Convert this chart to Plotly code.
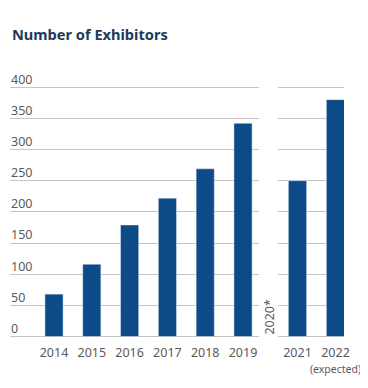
import plotly.graph_objects as go

title_text = "Number of Exhibitors"
years_a = ["2014", "2015", "2016", "2017", "2018", "2019"]
values_a = [68, 116, 179, 222, 269, 342]
years_b = ["2021", "2022<br><span style='font-size:10.5px'>(expected)</span>"]
values_b = [250, 380]
gap_label = "2020*"
y_ticks = [0, 50, 100, 150, 200, 250, 300, 350, 400]

BAR = "#0c4a88"
GRID = "#c4c4c4"
TXT = "#5a5a5a"
FONT = "Noto Sans"

# page body has an 8px margin: work in figure coords = screen - 8
OFF = 8
FW, FH = 368 - 2 * OFF, 388 - 2 * OFF
L = 10 - OFF
R = FW - (344 - OFF)
YLO, YHI = -20, 450
PXU = 250 / 400
PH = (YHI - YLO) * PXU
T = (87 - OFF) - (YHI - 400) * PXU
B = FH - T - PH
W = FW - L - R


def dom(a, b):
    return [(a - 10) / W, (b - 10) / W]


def py(screen_y):
    # screen y -> paper y
    return (T + PH - (screen_y - OFF)) / PH


fig = go.Figure()
fig.add_trace(go.Bar(x=years_a, y=values_a, marker_color=BAR, width=0.48,
                     xaxis="x", yaxis="y", hoverinfo="skip"))
fig.add_trace(go.Bar(x=years_b, y=values_b, marker_color=BAR, width=0.48,
                     xaxis="x2", yaxis="y2", hoverinfo="skip"))

common_x = dict(type="category", showgrid=False, showline=False, zeroline=False,
                ticks="", tickangle=0, automargin=False, ticklabelstandoff=-6,
                tickfont=dict(family=FONT, size=12.5, color=TXT), fixedrange=True)
common_y = dict(range=[YLO, YHI], tickvals=y_ticks, showgrid=True, gridcolor=GRID,
                gridwidth=1.3, zeroline=False, showline=False, fixedrange=True,
                automargin=False)

fig.update_layout(
    width=FW, height=FH,
    margin=dict(l=L, r=R, t=T, b=B, autoexpand=False),
    paper_bgcolor="white", plot_bgcolor="white",
    showlegend=False,
    xaxis=dict(domain=dom(10, 259), range=[-1.164, 5.423], **common_x),
    xaxis2=dict(domain=dom(278, 344), range=[-0.513, 1.224], **common_x),
    yaxis=dict(anchor="x", ticklabelposition="inside", ticklabelshift=-8,
               ticklabelstandoff=-2,
               tickfont=dict(family=FONT, size=12.5, color=TXT), **common_y),
    yaxis2=dict(anchor="x2", matches="y", showticklabels=False, **common_y),
    annotations=[
        dict(text="<b>" + title_text + "</b>", x=0, y=py(34),
             xref="paper", yref="paper",
             xanchor="left", yanchor="middle", showarrow=False,
             font=dict(family=FONT, size=14.6, color="#1c3a5c")),
        dict(text=gap_label, textangle=-90, x=(270 - 10) / W, y=py(317),
             xref="paper", yref="paper", xanchor="center", yanchor="middle",
             showarrow=False, font=dict(family=FONT, size=12.5, color=TXT)),
    ],
)

fig.write_html("out.html")
